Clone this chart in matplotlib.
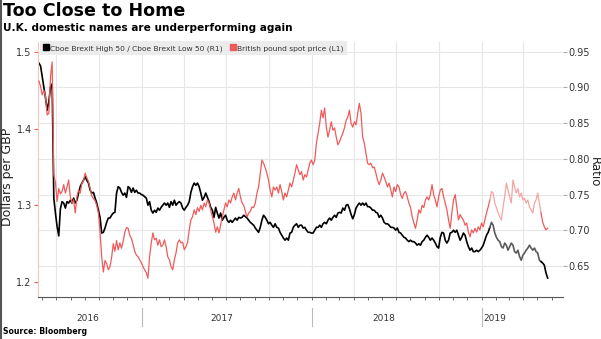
import matplotlib
matplotlib.use('Agg')
import matplotlib.pyplot as plt
import matplotlib.dates as mdates
import matplotlib.transforms as mtransforms
from matplotlib.lines import Line2D
from matplotlib.ticker import NullFormatter
import pandas as pd
import numpy as np

# ---------------- data ----------------
first_date = '2016-05-25'
last_date = '2019-05-23'

# British pound spot price (L1), roughly every 3.5 days
gbp = [
    1.462, 1.455, 1.444, 1.450, 1.442, 1.418, 1.420, 1.468, 1.487, 1.340,
    1.330, 1.305, 1.322, 1.315, 1.318, 1.327, 1.316, 1.324, 1.333, 1.311,
    1.303, 1.307, 1.290, 1.311, 1.320, 1.316, 1.329, 1.332, 1.342, 1.336,
    1.331, 1.322, 1.312, 1.309, 1.306, 1.300, 1.290, 1.265, 1.233, 1.213,
    1.228, 1.224, 1.216, 1.220, 1.232, 1.250, 1.240, 1.254, 1.242, 1.251,
    1.244, 1.253, 1.265, 1.271, 1.270, 1.261, 1.257, 1.249, 1.240, 1.235,
    1.233,
    1.229, 1.225, 1.220, 1.216, 1.212, 1.205, 1.233, 1.251, 1.264, 1.255,
    1.257, 1.248, 1.255, 1.246, 1.248, 1.255, 1.246, 1.233, 1.229, 1.220,
    1.216, 1.229, 1.238, 1.251, 1.255, 1.251, 1.252, 1.242, 1.246, 1.252,
    1.268, 1.281, 1.285, 1.294, 1.288, 1.297, 1.292, 1.300, 1.294, 1.303,
    1.298, 1.307, 1.303, 1.294, 1.285, 1.277, 1.265, 1.272, 1.264, 1.274,
    1.285, 1.294, 1.303, 1.298, 1.307, 1.303, 1.311, 1.316, 1.307, 1.316,
    1.322, 1.311, 1.303,
    1.300, 1.292, 1.285, 1.290, 1.292, 1.298, 1.297, 1.303, 1.316, 1.324,
    1.342, 1.359, 1.355, 1.349, 1.342, 1.333, 1.320, 1.311, 1.324, 1.320,
    1.324, 1.316, 1.327, 1.318, 1.307, 1.316, 1.311, 1.320, 1.329, 1.324,
    1.333, 1.342, 1.353, 1.346, 1.340, 1.344, 1.333, 1.340, 1.337, 1.346,
    1.355, 1.359, 1.353, 1.359, 1.381, 1.394, 1.407, 1.424, 1.414, 1.427,
    1.402, 1.389, 1.398, 1.409, 1.398, 1.401, 1.389, 1.379, 1.383, 1.389,
    1.394, 1.401, 1.411,
    1.415, 1.424, 1.407, 1.402, 1.409, 1.405, 1.420, 1.433, 1.420, 1.389,
    1.381, 1.368, 1.355, 1.353, 1.355, 1.349, 1.350, 1.342, 1.333, 1.327,
    1.333, 1.342, 1.337, 1.331, 1.324, 1.329, 1.320, 1.311, 1.324, 1.318,
    1.327, 1.324, 1.314, 1.309, 1.316, 1.318, 1.311, 1.303, 1.297, 1.285,
    1.277, 1.270, 1.281, 1.294, 1.290, 1.300, 1.297, 1.307, 1.311, 1.307,
    1.314, 1.327, 1.314, 1.307, 1.298, 1.311, 1.320, 1.322, 1.311, 1.303,
    1.294, 1.281, 1.270,
    1.290, 1.307, 1.314, 1.298, 1.281, 1.288, 1.284, 1.281, 1.274, 1.277,
    1.265, 1.259, 1.268, 1.264, 1.270, 1.265, 1.272, 1.268, 1.277, 1.272,
    1.281, 1.290, 1.298, 1.307, 1.318, 1.316, 1.303, 1.297, 1.290, 1.285,
    1.281, 1.298, 1.311, 1.329, 1.320, 1.311, 1.303, 1.333, 1.324, 1.316,
    1.322, 1.311, 1.316, 1.307, 1.309, 1.303, 1.307, 1.298, 1.294, 1.290,
    1.303, 1.307, 1.316, 1.303, 1.290, 1.278, 1.272, 1.268, 1.270,
]

# Cboe Brexit High 50 / Cboe Brexit Low 50 (R1), same sampling
ratio = [
    0.934, 0.930, 0.915, 0.900, 0.885, 0.868, 0.880, 0.900, 0.905, 0.745,
    0.724, 0.705, 0.692, 0.730, 0.740, 0.738, 0.731, 0.740, 0.738, 0.742,
    0.738, 0.745, 0.738, 0.742, 0.752, 0.761, 0.766, 0.770, 0.775, 0.770,
    0.766, 0.756, 0.752, 0.753, 0.745, 0.738, 0.728, 0.718, 0.696, 0.697,
    0.703, 0.711, 0.717, 0.717, 0.721, 0.724, 0.725, 0.752, 0.761, 0.759,
    0.753, 0.749, 0.752, 0.746, 0.761, 0.759, 0.753, 0.759, 0.753, 0.756,
    0.752,
    0.752, 0.750, 0.749, 0.747, 0.745, 0.735, 0.740, 0.728, 0.724, 0.728,
    0.725, 0.731, 0.728, 0.732, 0.735, 0.738, 0.735, 0.738, 0.732, 0.740,
    0.735, 0.742, 0.735, 0.738, 0.740, 0.738, 0.731, 0.728, 0.732, 0.735,
    0.740, 0.753, 0.761, 0.766, 0.763, 0.766, 0.761, 0.752, 0.742, 0.746,
    0.752, 0.746, 0.740, 0.732, 0.728, 0.718, 0.732, 0.724, 0.717, 0.724,
    0.714, 0.718, 0.721, 0.714, 0.711, 0.714, 0.711, 0.714, 0.717, 0.714,
    0.718, 0.717, 0.718,
    0.721, 0.719, 0.717, 0.714, 0.711, 0.709, 0.707, 0.703, 0.700, 0.697,
    0.704, 0.714, 0.721, 0.718, 0.714, 0.709, 0.711, 0.707, 0.704, 0.709,
    0.704, 0.703, 0.697, 0.693, 0.689, 0.686, 0.689, 0.686, 0.696, 0.697,
    0.704, 0.707, 0.709, 0.704, 0.707, 0.707, 0.703, 0.704, 0.700, 0.697,
    0.697, 0.696, 0.696, 0.700, 0.704, 0.704, 0.707, 0.704, 0.709, 0.711,
    0.709, 0.714, 0.717, 0.714, 0.718, 0.721, 0.718, 0.724, 0.725, 0.724,
    0.731, 0.728, 0.735,
    0.736, 0.730, 0.722, 0.716, 0.722, 0.731, 0.735, 0.738, 0.735, 0.738,
    0.735, 0.738, 0.733, 0.733, 0.731, 0.728, 0.728, 0.725, 0.724, 0.718,
    0.721, 0.717, 0.711, 0.709, 0.709, 0.707, 0.704, 0.704, 0.703, 0.700,
    0.703, 0.697, 0.696, 0.693, 0.690, 0.689, 0.686, 0.684, 0.686, 0.684,
    0.684, 0.682, 0.679, 0.681, 0.679, 0.684, 0.686, 0.690, 0.693, 0.690,
    0.686, 0.689, 0.686, 0.682, 0.677, 0.675, 0.690, 0.697, 0.696, 0.686,
    0.682, 0.686, 0.696,
    0.697, 0.700, 0.697, 0.700, 0.693, 0.686, 0.690, 0.696, 0.693, 0.684,
    0.677, 0.672, 0.675, 0.670, 0.670, 0.672, 0.670, 0.672, 0.675, 0.679,
    0.686, 0.693, 0.697, 0.704, 0.711, 0.707, 0.696, 0.690, 0.686, 0.684,
    0.677, 0.675, 0.682, 0.679, 0.672, 0.677, 0.682, 0.679, 0.670, 0.668,
    0.672, 0.663, 0.658, 0.665, 0.668, 0.672, 0.675, 0.679, 0.675, 0.672,
    0.675, 0.670, 0.668, 0.658, 0.656, 0.654, 0.651, 0.640, 0.633,
]

left_ticks = [1.2, 1.3, 1.4, 1.5]
left_labels = ['1.2', '1.3', '1.4', '1.5']
right_ticks = [0.65, 0.70, 0.75, 0.80, 0.85, 0.90, 0.95]
right_labels = ['0.65', '0.70', '0.75', '0.80', '0.85', '0.90', '0.95']
year_labels = ['2016', '2017', '2018', '2019']
year_label_pos = ['2016-09-06', '2017-06-21', '2018-06-05', '2019-01-29']
year_starts = ['2017-01-01', '2018-01-01', '2019-01-01']
quarter_grid = ['2016-07-01', '2016-10-01', '2017-01-01', '2017-04-01', '2017-07-01',
                '2017-10-01', '2018-01-01', '2018-04-01', '2018-07-01', '2018-10-01',
                '2019-01-01', '2019-04-01']
faded_span = ('2019-01-20', '2019-05-12')

RED = '#f05a5a'
RED_LIGHT = '#f5a3a3'
BLACK = '#000000'
BLACK_LIGHT = '#5a5a5a'
GRID = '#e6e6e6'
TXT = '#333333'

dates_gbp = pd.date_range(first_date, last_date, periods=len(gbp))
dates_ratio = pd.date_range(first_date, last_date, periods=len(ratio))

# ---------------- figure ----------------
W, H = 601, 339
fig = plt.figure(figsize=(W / 100, H / 100), dpi=100)
fig.patch.set_facecolor('white')
ax = fig.add_axes([38 / W, 42 / H, 525 / W, 255 / H])
ax2 = ax.twinx()
ax2.set_zorder(1)
ax.set_zorder(2)
ax.patch.set_visible(False)
ax2.patch.set_visible(False)

ax.set_xlim(pd.Timestamp('2016-05-23'), pd.Timestamp('2019-06-25'))
ax.set_ylim(1.18044, 1.51304)
ax2.set_ylim(0.60644, 0.96359)

# grid (under everything)
ax2.set_yticks(right_ticks)
ax2.set_yticklabels(right_labels)
ax2.yaxis.grid(True, color=GRID, lw=0.8)
ax2.set_axisbelow(True)
for d in quarter_grid:
    ax2.axvline(pd.Timestamp(d), color=GRID, lw=0.8, zorder=0)


def plot_split(axis, dates, vals, c_main, c_light, lw):
    s = pd.Series(vals, index=dates)
    a, b = pd.Timestamp(faded_span[0]), pd.Timestamp(faded_span[1])
    m1 = s[s.index <= a]
    m2 = s[(s.index >= s.index[s.index <= a][-1]) & (s.index <= b)]
    m3 = s[s.index >= s.index[s.index <= b][-1]]
    axis.plot(m1.index, m1.values, color=c_main, lw=lw, zorder=3)
    axis.plot(m2.index, m2.values, color=c_light, lw=lw, zorder=3)
    axis.plot(m3.index, m3.values, color=c_main, lw=lw, zorder=3)


plot_split(ax2, dates_ratio, ratio, BLACK, BLACK_LIGHT, 1.2)
plot_split(ax, dates_gbp, gbp, RED, RED_LIGHT, 0.9)

# left axis
ax.set_yticks(left_ticks)
ax.set_yticklabels(left_labels)
ax.tick_params(axis='y', which='both', color=RED, labelcolor=TXT, length=3,
               width=0.8, labelsize=7, pad=1.5)
ax2.tick_params(axis='y', color='#aaaaaa', labelcolor=TXT, length=3, width=0.8,
                labelsize=7, pad=0.8)

# x axis: monthly small ticks, no labels
ax.xaxis.set_major_locator(mdates.MonthLocator())
ax.xaxis.set_major_formatter(NullFormatter())
ax.tick_params(axis='x', length=2.5, width=0.6, color='#555555')

for s in ['top', 'right']:
    ax.spines[s].set_visible(False)
ax.spines['left'].set_color('#f6c4c4')
ax.spines['left'].set_linewidth(0.8)
ax.spines['bottom'].set_color('#555555')
ax.spines['bottom'].set_linewidth(0.8)
for s in ax2.spines.values():
    s.set_visible(False)

trans = mtransforms.blended_transform_factory(ax.transData, ax.transAxes)
for lab, pos in zip(year_labels, year_label_pos):
    ax.text(mdates.date2num(pd.Timestamp(pos)), -0.085, lab, transform=trans,
            ha='center', va='center', fontsize=6.5, color=TXT)
for d in year_starts:
    x = mdates.date2num(pd.Timestamp(d))
    ax.plot([x, x], [-0.045, -0.115], transform=trans, clip_on=False,
            color='#bbbbbb', lw=0.8)

# axis titles
fig.text(8 / W, 1 - 177 / H, 'Dollars per GBP', rotation=90, ha='center',
         va='center', fontsize=9, color='#222222')
fig.text(594 / W, 1 - 172 / H, 'Ratio', rotation=270, ha='center',
         va='center', fontsize=8.5, color='#222222')

# titles
fig.text(3 / W, 1 - 2 / H, 'Too Close to Home', fontsize=12.6, fontweight='bold',
         va='top', ha='left', color='black')
fig.text(3 / W, 1 - 23 / H, 'U.K. domestic names are underperforming again',
         fontsize=7.6, fontweight='bold', va='top', ha='left', color='black')
fig.text(3 / W, 1 - 331 / H, 'Source: Bloomberg', fontsize=5.6,
         fontweight='bold', va='center', ha='left', color='black')

# legend
handles = [Line2D([], [], marker='s', ls='none', color=BLACK, markersize=4),
           Line2D([], [], marker='s', ls='none', color=RED, markersize=4)]
labels = ['Cboe Brexit High 50 / Cboe Brexit Low 50 (R1)',
          'British pound spot price (L1)']
leg = ax.legend(handles, labels, loc='upper left',
                bbox_to_anchor=(40 / W, 1 - 41 / H), bbox_transform=fig.transFigure,
                ncol=2, fontsize=5.4, frameon=True, fancybox=False, framealpha=1,
                facecolor='#ececec', borderpad=0.5, handlelength=0.6,
                handletextpad=0.25, columnspacing=1.0, borderaxespad=0)
leg.get_frame().set_linewidth(0)
for t in leg.get_texts():
    t.set_color(TXT)
leg.set_zorder(10)

# dark left border of the original picture
fig.add_artist(Line2D([0.0015, 0.0015], [0, 1], transform=fig.transFigure,
                      color='#555555', lw=1.5))

fig.savefig('out.png', dpi=100)
